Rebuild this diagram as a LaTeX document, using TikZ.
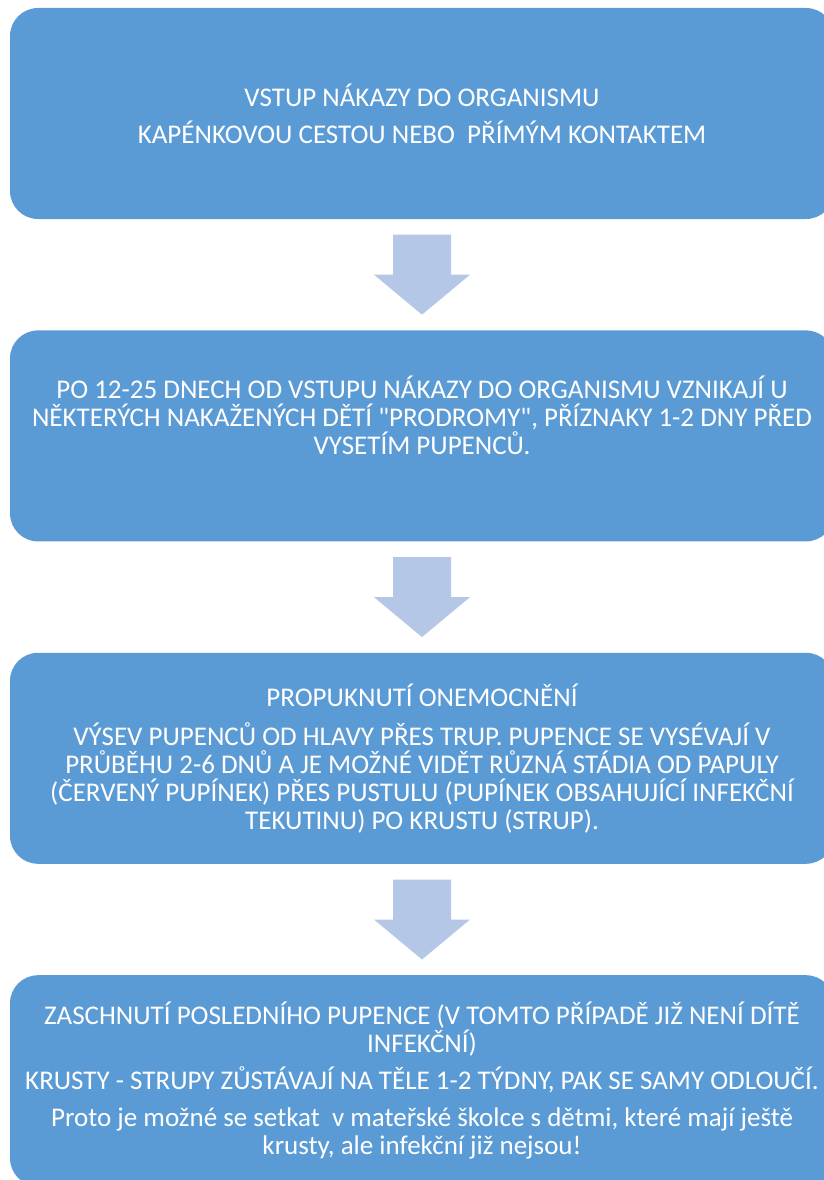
\documentclass[tikz,border=0pt]{standalone}
\usepackage{fontspec}
\setmainfont{Carlito}[Ligatures=TeXOff]
\usetikzlibrary{positioning}
\definecolor{boxblue}{HTML}{5B9BD5}
\definecolor{arrowblue}{HTML}{B4C7E7}

\begin{document}
\begin{tikzpicture}[x=1pt,y=-1pt,
  stage/.style={fill=boxblue,rounded corners=28pt,minimum width=824pt,minimum height=211pt,
    text=white,align=center,inner sep=0pt,font=\fontsize{27}{28}\selectfont},
  blockarrow/.style={fill=arrowblue}]
\useasboundingbox (0,0) rectangle (823,1180);

\node[stage] (entry) at (422,113.5) {VSTUP NÁKAZY DO ORGANISMU\\[9pt]
  KAPÉNKOVOU CESTOU NEBO\ \ PŘÍMÝM KONTAKTEM};
\node[stage,below=111pt of entry] (prodrome) {PO 12-25 DNECH OD VSTUPU NÁKAZY DO ORGANISMU VZNIKAJÍ U\\
  NĚKTERÝCH NAKAŽENÝCH DĚTÍ "PRODROMY", PŘÍZNAKY 1-2 DNY PŘED\\
  VYSETÍM PUPENCŮ.\\[14pt]~};
\node[stage,below=111pt of prodrome] (outbreak) {PROPUKNUTÍ ONEMOCNĚNÍ\\[11pt]
  VÝSEV PUPENCŮ OD HLAVY PŘES TRUP. PUPENCE SE VYSÉVAJÍ V\\
  PRŮBĚHU 2-6 DNŮ A JE MOŽNÉ VIDĚT RŮZNÁ STÁDIA OD PAPULY\\
  (ČERVENÝ PUPÍNEK) PŘES PUSTULU (PUPÍNEK OBSAHUJÍCÍ INFEKČNÍ\\
  TEKUTINU) PO KRUSTU (STRUP).};
\node[stage,below=111pt of outbreak] (drying) {ZASCHNUTÍ POSLEDNÍHO PUPENCE (V TOMTO PŘÍPADĚ JIŽ NENÍ DÍTĚ\\
  INFEKČNÍ)\\[9pt]
  KRUSTY - STRUPY ZŮSTÁVAJÍ NA TĚLE 1-2 TÝDNY, PAK SE SAMY ODLOUČÍ.\\[9pt]
  Proto je možné se setkat\ \ v mateřské školce s dětmi, které mají ještě\\
  krusty, ale infekční již nejsou!};

% block arrows between the stages
\foreach \a/\b in {entry/prodrome,prodrome/outbreak,outbreak/drying}{
  \path (\a.south) -- coordinate[pos=0.5] (m) (\b.north);
  \fill[blockarrow,shift={(m)}] (-29,-40) -- (29,-40) -- (29,0) -- (48,0)
    -- (0,40) -- (-48,0) -- (-29,0) -- cycle;
}
\end{tikzpicture}
\end{document}
